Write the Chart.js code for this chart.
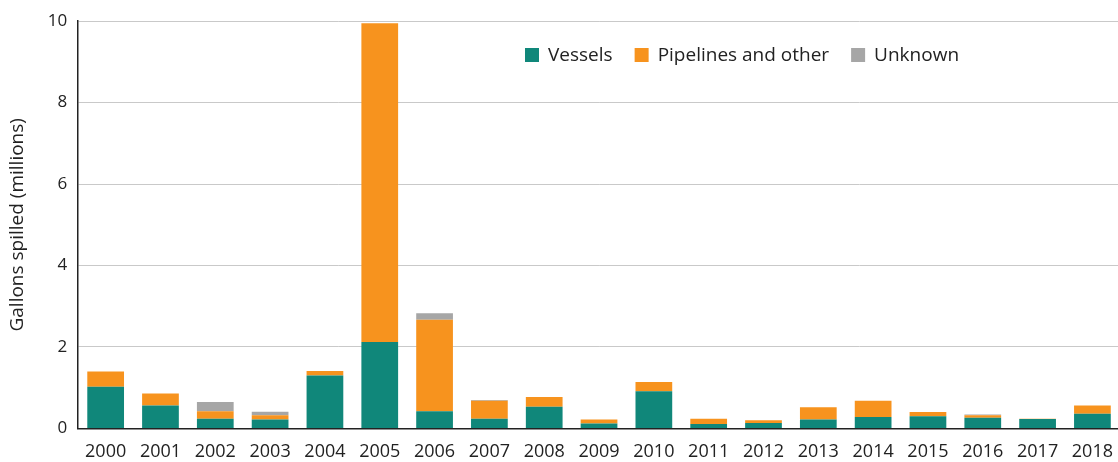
<!DOCTYPE html>
<html>
<head>
<meta charset="utf-8">
<script src="https://cdn.jsdelivr.net/npm/chart.js@4.4.0/dist/chart.umd.min.js"></script>
<style>
  html, body { margin: 0; padding: 0; background: #fff; overflow: hidden; }
  #wrap { width: 1126px; height: 478px; position: relative; }
</style>
</head>
<body>
<div id="wrap"><canvas id="spills"></canvas></div>
<script>
var years = ["2000","2001","2002","2003","2004","2005","2006","2007","2008","2009",
             "2010","2011","2012","2013","2014","2015","2016","2017","2018"];
var vessels   = [1.02, 0.56, 0.24, 0.22, 1.30, 2.12, 0.42, 0.24, 0.53, 0.12, 0.91, 0.11, 0.13, 0.22, 0.28, 0.30, 0.26, 0.23, 0.36];
var pipelines = [0.38, 0.30, 0.18, 0.10, 0.11, 7.83, 2.25, 0.44, 0.24, 0.10, 0.23, 0.13, 0.07, 0.30, 0.40, 0.10, 0.06, 0.01, 0.20];
var unknown   = [0.00, 0.00, 0.23, 0.09, 0.00, 0.00, 0.16, 0.02, 0.00, 0.00, 0.00, 0.00, 0.00, 0.00, 0.00, 0.00, 0.02, 0.00, 0.00];
var yTicks = [0, 2, 4, 6, 8, 10];

var font = "'Open Sans', 'Liberation Sans', sans-serif";

// legend drawn inside the plot, right of centre like the original
var innerLegend = {
    id: "innerLegend",
    afterDraw: function(chart) {
        var c = chart.ctx;
        var x = 525, y = 55;
        c.save();
        c.font = "19px " + font;
        c.textBaseline = "middle";
        chart.data.datasets.forEach(function(ds) {
            c.fillStyle = ds.backgroundColor;
            c.fillRect(x, y - 7, 14, 14);
            c.fillStyle = "#222";
            c.fillText(ds.label, x + 23, y + 1);
            x += 23 + c.measureText(ds.label).width + 22;
        });
        c.restore();
    }
};

new Chart(document.getElementById("spills"), {
    type: "bar",
    data: {
        labels: years,
        datasets: [
            { label: "Vessels", data: vessels, backgroundColor: "#10877a" },
            { label: "Pipelines and other", data: pipelines, backgroundColor: "#f7931e" },
            { label: "Unknown", data: unknown, backgroundColor: "#a6a6a6" }
        ]
    },
    options: {
        responsive: true,
        maintainAspectRatio: false,
        animation: false,
        barPercentage: 0.67,
        categoryPercentage: 1,
        layout: { padding: { top: 6, left: 6, right: 0, bottom: 2 } },
        plugins: {
            legend: { display: false },
            tooltip: { enabled: false }
        },
        scales: {
            x: {
                stacked: true,
                grid: { display: false, drawTicks: false },
                border: { display: true, color: "#222", width: 1.5 },
                ticks: { color: "#222", font: { family: font, size: 18 }, padding: 13, maxRotation: 0 }
            },
            y: {
                stacked: true,
                min: 0,
                max: 10,
                afterBuildTicks: function(axis) {
                    axis.ticks = yTicks.map(function(v) { return { value: v }; });
                },
                grid: { color: "#c9c9c9", lineWidth: 1, drawTicks: false },
                border: { display: true, color: "#222", width: 1.5 },
                ticks: { color: "#222", font: { family: font, size: 17 }, padding: 11 },
                title: {
                    display: true,
                    text: "Gallons spilled (millions)",
                    color: "#222",
                    font: { family: font, size: 19 },
                    padding: { top: 0, bottom: 8 }
                }
            }
        }
    },
    plugins: [innerLegend]
});
</script>
</body>
</html>
